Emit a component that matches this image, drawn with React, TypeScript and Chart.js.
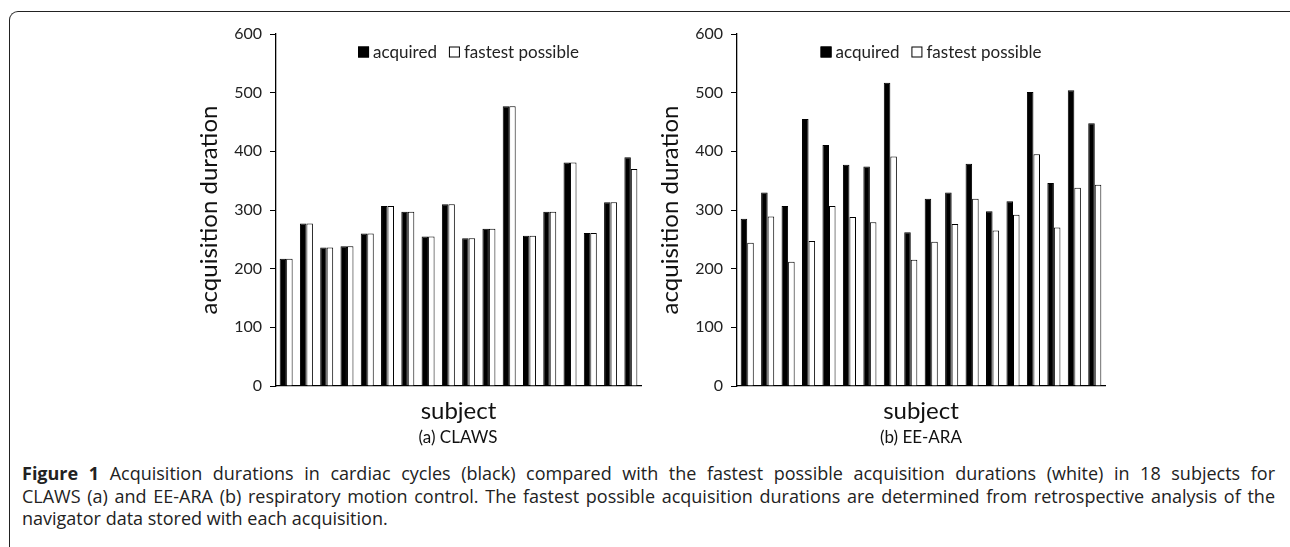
import React, { useEffect, useRef } from "react";
import { Chart, registerables } from "chart.js";

Chart.register(...registerables);

const subjects = ["1", "2", "3", "4", "5", "6", "7", "8", "9", "10", "11", "12", "13", "14", "15", "16", "17", "18"];
const clawsAcquired = [217, 277, 236, 238, 260, 307, 297, 255, 310, 252, 268, 477, 256, 297, 381, 261, 313, 390];
const clawsFastest = [217, 277, 236, 238, 260, 307, 297, 255, 310, 252, 268, 477, 256, 297, 381, 261, 313, 370];
const eeAcquired = [285, 330, 307, 455, 411, 377, 374, 517, 262, 319, 330, 379, 298, 315, 501, 346, 504, 448];
const eeFastest = [244, 289, 212, 247, 307, 288, 279, 391, 215, 246, 276, 319, 265, 292, 395, 270, 338, 343];
const yTickValues = [0, 100, 200, 300, 400, 500, 600];
const seriesNames = ["acquired", "fastest possible"];
const yTitle = "acquisition duration";
const xTitle = "subject";
const panelTitles = ["(a) CLAWS", "(b) EE-ARA"];
const captionBold = "Figure 1";
const captionLines = [
  " Acquisition durations in cardiac cycles (black) compared with the fastest possible acquisition durations (white) in 18 subjects for",
  "CLAWS (a) and EE-ARA (b) respiratory motion control. The fastest possible acquisition durations are determined from retrospective analysis of the",
  "navigator data stored with each acquisition.",
];

const CHART_FONT = "Lato, 'Open Sans', sans-serif";

const insideLegend = {
  id: "insideLegend",
  afterDatasetsDraw(chart: any) {
    const { ctx, chartArea } = chart;
    const datasets = chart.data.datasets;
    const box = 11;
    const gapBoxText = 4;
    const gapItems = 12;
    ctx.save();
    ctx.font = `17px ${CHART_FONT}`;
    ctx.textBaseline = "middle";
    ctx.textAlign = "left";
    const widths = datasets.map((d: any) => ctx.measureText(d.label).width);
    let total = 0;
    widths.forEach((w: number, i: number) => {
      total += box + gapBoxText + w + (i < widths.length - 1 ? gapItems : 0);
    });
    const cx = (chartArea.left + chartArea.right) / 2 + 10;
    let x = cx - total / 2;
    const yMid = chartArea.top + 18;
    datasets.forEach((d: any, i: number) => {
      ctx.fillStyle = d.backgroundColor;
      ctx.fillRect(x, yMid - box / 2, box, box);
      ctx.strokeStyle = d.borderColor;
      ctx.lineWidth = 1;
      ctx.strokeRect(x + 0.5, yMid - box / 2 + 0.5, box - 1, box - 1);
      x += box + gapBoxText;
      ctx.fillStyle = "#222";
      ctx.fillText(d.label, x, yMid + 1);
      x += widths[i] + gapItems;
    });
    ctx.restore();
  },
};

type PanelProps = {
  acquired: number[];
  fastest: number[];
  left: number;
  width: number;
  yAxisWidth: number;
  rightPad: number;
};

function Panel({ acquired, fastest, left, width, yAxisWidth, rightPad }: PanelProps) {
  const ref = useRef<HTMLCanvasElement | null>(null);
  const height = 432;
  useEffect(() => {
    if (!ref.current) return;
    const chart = new Chart(ref.current, {
      type: "bar",
      data: {
        labels: subjects,
        datasets: [
          {
            label: seriesNames[0],
            data: acquired,
            backgroundColor: "#000000",
            borderColor: "#000000",
            borderWidth: 1,
            categoryPercentage: 0.64,
            barPercentage: 1,
          },
          {
            label: seriesNames[1],
            data: fastest,
            backgroundColor: "#ffffff",
            borderColor: "#000000",
            borderWidth: 1,
            categoryPercentage: 0.64,
            barPercentage: 1,
          },
        ],
      },
      options: {
        animation: false,
        responsive: false,
        maintainAspectRatio: false,
        layout: { padding: { top: 34, right: rightPad, bottom: 0, left: 0 } },
        plugins: {
          tooltip: { enabled: false },
          legend: { display: false },
        },
        scales: {
          x: {
            grid: { display: false, drawTicks: false },
            border: { display: true, color: "#000", width: 1.3 },
            ticks: { display: false },
            title: {
              display: true,
              text: xTitle,
              color: "#111",
              font: { family: CHART_FONT, size: 24 },
              padding: { top: 0, bottom: 6 },
            },
            afterFit: (scale: any) => {
              scale.height = 46;
            },
          },
          y: {
            min: 0,
            max: 600,
            afterBuildTicks: (scale: any) => {
              scale.ticks = yTickValues.map((v) => ({ value: v }));
            },
            grid: {
              display: true,
              drawOnChartArea: false,
              drawTicks: true,
              tickLength: 6,
              color: "#000",
              lineWidth: 1,
            },
            border: { display: true, color: "#000", width: 1.3 },
            ticks: {
              color: "#222",
              padding: 8,
              font: { family: CHART_FONT, size: 16 },
            },
            title: {
              display: true,
              text: yTitle,
              color: "#111",
              font: { family: CHART_FONT, size: 24 },
              padding: { top: 5, bottom: 0 },
            },
            afterFit: (scale: any) => {
              scale.width = yAxisWidth;
            },
          },
        },
      },
      plugins: [insideLegend],
    });
    return () => chart.destroy();
  }, []);
  return (
    <canvas
      ref={ref}
      width={width}
      height={height}
      style={{ position: "absolute", left, top: 0, width, height }}
    />
  );
}

export default function App() {
  useEffect(() => {
    document.body.style.margin = "0";
  }, []);
  return (
    <div style={{ position: "relative", width: 1290, height: 547, background: "#fff", overflow: "hidden" }}>
      <div
        style={{
          position: "absolute",
          left: 9,
          top: 11,
          width: 1300,
          height: 560,
          borderLeft: "1.5px solid #222",
          borderTop: "1.5px solid #222",
          borderTopLeftRadius: 9,
          boxSizing: "border-box",
        }}
      />
      <Panel acquired={clawsAcquired} fastest={clawsFastest} left={190} width={470} yAxisWidth={86} rightPad={19} />
      <Panel acquired={eeAcquired} fastest={eeFastest} left={651} width={470} yAxisWidth={86} rightPad={16} />
      <div style={{ position: "absolute", left: 358, top: 426, width: 200, textAlign: "center", fontFamily: CHART_FONT, fontSize: 17, color: "#111" }}>
        {panelTitles[0]}
      </div>
      <div style={{ position: "absolute", left: 821, top: 426, width: 200, textAlign: "center", fontFamily: CHART_FONT, fontSize: 17, color: "#111" }}>
        {panelTitles[1]}
      </div>
      <div
        style={{
          position: "absolute",
          left: 22,
          top: 462,
          width: 1253,
          fontFamily: "'Open Sans', sans-serif",
          fontSize: 18,
          lineHeight: "22.5px",
          color: "#222",
        }}
      >
        <div style={{ textAlign: "justify", textAlignLast: "justify", whiteSpace: "nowrap" as any }}>
          <b>{captionBold}</b>
          {captionLines[0]}
        </div>
        <div style={{ textAlign: "justify", textAlignLast: "justify", whiteSpace: "nowrap" as any }}>{captionLines[1]}</div>
        <div>{captionLines[2]}</div>
      </div>
    </div>
  );
}
